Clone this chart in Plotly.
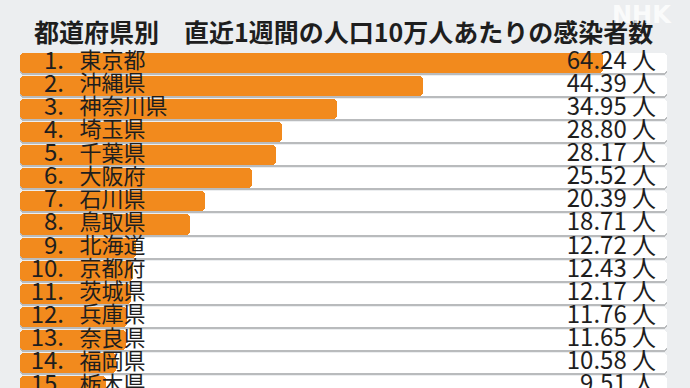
import plotly.graph_objects as go

# ---- data ----
ranks = list(range(1, 16))
prefectures = ["東京都", "沖縄県", "神奈川県", "埼玉県", "千葉県", "大阪府", "石川県", "鳥取県",
               "北海道", "京都府", "茨城県", "兵庫県", "奈良県", "福岡県", "栃木県"]
values = [64.24, 44.39, 34.95, 28.80, 28.17, 25.52, 20.39, 18.71,
          12.72, 12.43, 12.17, 11.76, 11.65, 10.58, 9.51]
title_text = "都道府県別　直近1週間の人口10万人あたりの感染者数"
unit = "人"

# ---- styling ----
FONT = "Noto Sans CJK JP"
ORANGE = "#f28a1d"
BG = "#eceef0"
XMAX = 71.25
rows = list(range(len(values)))
BW = 0.87
TXT = "#1e1e1e"

fig = go.Figure()

# shadow of the track
fig.add_trace(go.Bar(
    y=rows, x=[XMAX] * len(rows), orientation="h", base=0,
    width=BW, offset=-BW / 2 + 0.09,
    marker=dict(color="#b9bbbd", cornerradius=4, line=dict(width=0)),
    hoverinfo="skip"))
# white track
fig.add_trace(go.Bar(
    y=rows, x=[XMAX] * len(rows), orientation="h", base=0,
    width=BW, offset=-BW / 2,
    marker=dict(color="white", cornerradius=4, line=dict(width=0)),
    hoverinfo="skip"))
# value bar
fig.add_trace(go.Bar(
    y=rows, x=values, orientation="h", base=0,
    width=BW, offset=-BW / 2,
    marker=dict(color=ORANGE, cornerradius=4, line=dict(width=0)),
    hoverinfo="skip"))

# rank numbers
fig.add_trace(go.Scatter(
    y=rows, x=[4.85] * len(rows), mode="text",
    text=[f"{r}." for r in ranks], textposition="middle left",
    textfont=dict(family=FONT, size=24, color=TXT),
    hoverinfo="skip", cliponaxis=False))
# prefecture names
fig.add_trace(go.Scatter(
    y=rows, x=[6.55] * len(rows), mode="text",
    text=prefectures, textposition="middle right",
    textfont=dict(family=FONT, size=22, color=TXT),
    hoverinfo="skip", cliponaxis=False))
# values
fig.add_trace(go.Scatter(
    y=rows, x=[70.05] * len(rows), mode="text",
    text=[f"{v:.2f} {unit}" for v in values], textposition="middle left",
    textfont=dict(family=FONT, size=24, color=TXT),
    hoverinfo="skip", cliponaxis=False))

H_PLOT = 388 - 51
W_PLOT = 690 - 20 - 23

fig.update_layout(
    width=690, height=388,
    margin=dict(l=20, r=23, t=51, b=0),
    paper_bgcolor=BG, plot_bgcolor=BG,
    barmode="overlay", showlegend=False, bargap=0,
    xaxis=dict(range=[0, XMAX], visible=False, fixedrange=True),
    yaxis=dict(range=[14.07, -0.5], visible=False, fixedrange=True),
    annotations=[
        dict(text=f"<b>{title_text}</b>", x=(343 - 20) / W_PLOT, y=1 + (51 - 31) / H_PLOT,
             xref="paper", yref="paper", yanchor="middle", xanchor="center",
             showarrow=False, font=dict(family=FONT, size=25, color=TXT)),
        dict(text="<b>NHK</b>", x=(674 - 20) / W_PLOT, y=1 + (51 - 15) / H_PLOT,
             xref="paper", yref="paper", xanchor="right", yanchor="middle",
             showarrow=False, font=dict(family="DejaVu Sans", size=24,
                                        color="rgba(255,255,255,0.8)")),
    ],
)

fig.write_html(
    "out.html",
    config={"displayModeBar": False},
    post_script="document.body.style.margin='0';document.body.style.padding='0';",
)
